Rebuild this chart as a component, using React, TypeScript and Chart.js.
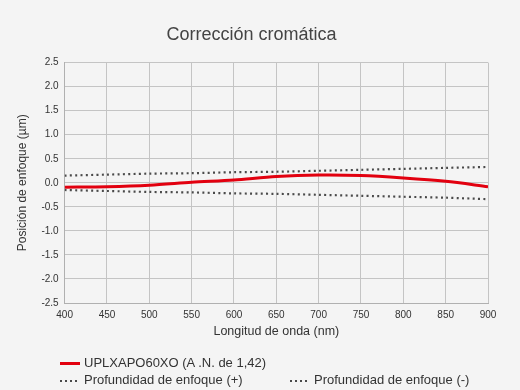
import React, { useEffect, useRef } from "react";
import { Chart, registerables } from "chart.js";

Chart.register(...registerables);

const wavelengths = [400, 450, 500, 550, 600, 650, 700, 750, 800, 850, 900];
const objectiveShift = [-0.09, -0.08, -0.05, 0.01, 0.06, 0.13, 0.16, 0.15, 0.1, 0.03, -0.08];
const depthPlus = [0.15, 0.17, 0.19, 0.2, 0.22, 0.23, 0.25, 0.27, 0.29, 0.31, 0.33];
const depthMinus = [-0.15, -0.17, -0.19, -0.2, -0.22, -0.23, -0.25, -0.27, -0.29, -0.31, -0.34];

const titleText = "Corrección cromática";
const xTitle = "Longitud de onda (nm)";
const yTitle = "Posición de enfoque (µm)";
const seriesNames = ["UPLXAPO60XO (A .N. de 1,42)", "Profundidad de enfoque (+)", "Profundidad de enfoque (-)"];

const RED = "#e2000f";
const DOT = "#4a4a4a";
const FONT = "'Liberation Sans', Arial, Helvetica, sans-serif";

export default function App() {
  const ref = useRef<HTMLCanvasElement | null>(null);

  useEffect(() => {
    document.body.style.margin = "0";
    document.body.style.background = "#f4f4f4";
    const ctx = ref.current!.getContext("2d")!;
    const toPts = (arr: number[]) => wavelengths.map((x, i) => ({ x, y: arr[i] }));
    const chart = new Chart(ctx, {
      type: "line",
      data: {
        datasets: [
          {
            label: seriesNames[0],
            data: toPts(objectiveShift),
            borderColor: RED,
            backgroundColor: RED,
            borderWidth: 3,
            pointRadius: 0,
            tension: 0.3,
            order: 0,
          },
          {
            label: seriesNames[1],
            data: toPts(depthPlus),
            borderColor: DOT,
            borderWidth: 2.2,
            borderDash: [2, 3.3],
            pointRadius: 0,
            tension: 0.3,
            order: 1,
          },
          {
            label: seriesNames[2],
            data: toPts(depthMinus),
            borderColor: DOT,
            borderWidth: 2.2,
            borderDash: [2, 3.3],
            pointRadius: 0,
            tension: 0.3,
            order: 2,
          },
        ],
      },
      options: {
        animation: false,
        responsive: false,
        maintainAspectRatio: false,
        layout: { padding: { top: 14, left: 15, right: 32, bottom: 51 } },
        plugins: {
          legend: { display: false },
          tooltip: { enabled: false },
          title: {
            display: true,
            text: titleText,
            color: "#444",
            font: { family: FONT, size: 18, weight: "normal" },
            padding: { top: 10, bottom: 17 },
          },
        },
        scales: {
          x: {
            type: "linear",
            min: 400,
            max: 900,
            ticks: { stepSize: 50, color: "#333", font: { family: FONT, size: 10 }, padding: 6, maxRotation: 0 },
            grid: { color: "#c4c4c4", drawTicks: false, lineWidth: 1 },
            border: { color: "#b0b0b0" },
            title: { display: true, text: xTitle, color: "#333", font: { family: FONT, size: 12.5 }, padding: { top: -3, bottom: 0 } },
          },
          y: {
            min: -2.5,
            max: 2.5,
            ticks: {
              stepSize: 0.5,
              color: "#333",
              font: { family: FONT, size: 10 },
              padding: 6,
              callback: (v: any) => Number(v).toFixed(1),
            },
            grid: { color: "#c4c4c4", drawTicks: false, lineWidth: 1 },
            border: { color: "#b0b0b0" },
            title: { display: true, text: yTitle, color: "#333", font: { family: FONT, size: 12 }, padding: { top: 0, bottom: 6 } },
          },
        },
      },
    });
    return () => chart.destroy();
  }, []);

  const legendText: React.CSSProperties = { fontFamily: FONT, fontSize: 13, color: "#333", whiteSpace: "nowrap" };
  const dotted = (
    <span
      style={{
        display: "inline-block",
        width: 20,
        height: 2,
        backgroundImage: `repeating-linear-gradient(to right, ${DOT} 0px, ${DOT} 2px, transparent 2px, transparent 5px)`,
        marginRight: 4,
        verticalAlign: "middle",
      }}
    />
  );

  return (
    <div style={{ position: "relative", width: 520, height: 390, background: "#f4f4f4" }}>
      <canvas ref={ref} width={520} height={390} style={{ display: "block" }} />
      <div style={{ position: "absolute", left: 60, top: 355, ...legendText, lineHeight: "16px" }}>
        <span style={{ display: "inline-block", width: 20, height: 3, background: RED, marginRight: 4, verticalAlign: "middle" }} />
        {seriesNames[0]}
      </div>
      <div style={{ position: "absolute", left: 60, top: 372, ...legendText, lineHeight: "16px" }}>
        {dotted}
        {seriesNames[1]}
      </div>
      <div style={{ position: "absolute", left: 290, top: 372, ...legendText, lineHeight: "16px" }}>
        {dotted}
        {seriesNames[2]}
      </div>
    </div>
  );
}
